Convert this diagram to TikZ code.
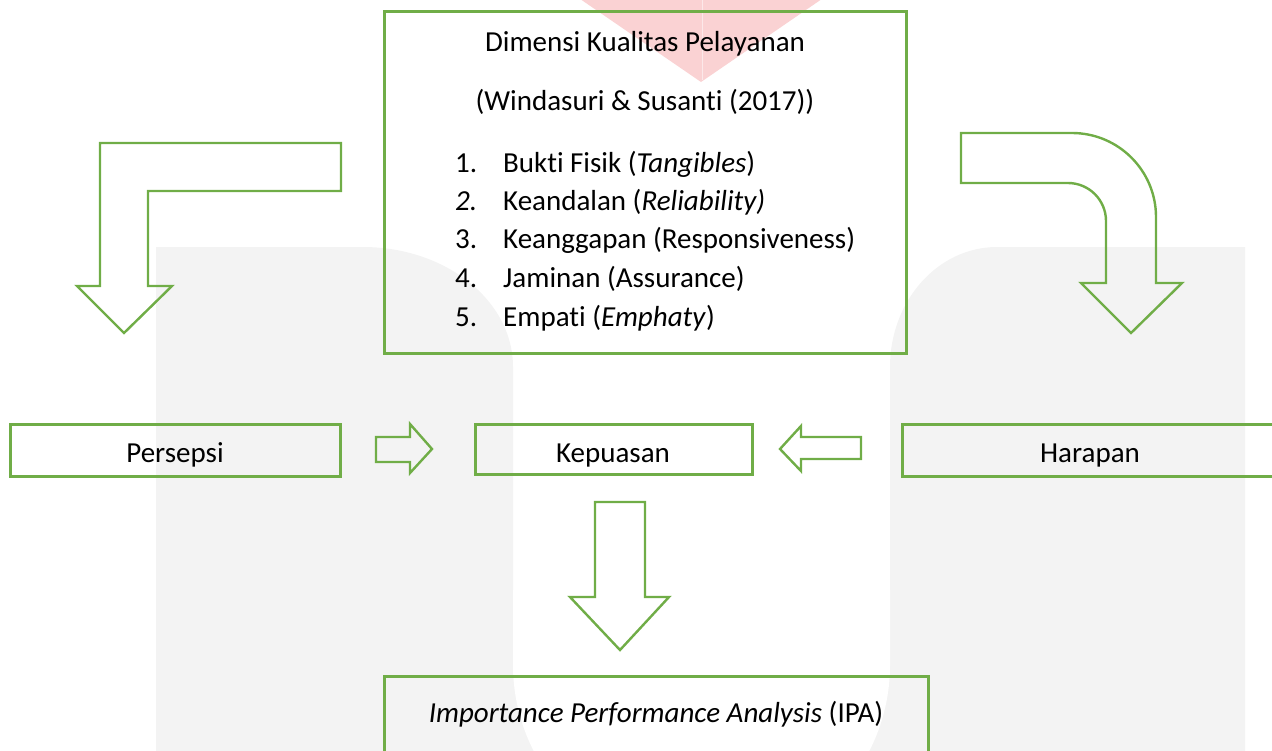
\documentclass[tikz,border=0pt]{standalone}
\usepackage{fontspec}
\setmainfont{Carlito}[RawFeature={-liga;-clig;-calt;-dlig}]
\definecolor{kpgreen}{RGB}{112,173,71}
\definecolor{wmgrey}{RGB}{243,243,243}
\definecolor{wmred}{RGB}{250,210,211}

\begin{document}
\begin{tikzpicture}[x=1pt,y=-1pt,
	greenbox/.style={draw=kpgreen, line width=3pt, inner sep=0pt},
	blockarrow/.style={draw=kpgreen, line width=2.4pt, line join=miter},
	txt/.style={anchor=base, inner sep=0pt, font=\fontsize{29}{35}\selectfont},
	itemtxt/.style={anchor=base west, inner sep=0pt, font=\fontsize{29}{35}\selectfont}]
	\useasboundingbox (0,0) rectangle (1272,750);
	% watermark
	\fill[wmgrey] (156,760) -- (156,247) -- (363,247) arc[start angle=-90, end angle=0, x radius=150, y radius=120] -- (513,760) -- cycle;
	\fill[wmgrey] (890,760) -- (890,367) arc[start angle=180, end angle=270, x radius=107, y radius=120] -- (1245,247) -- (1245,760) -- cycle;
	\fill[wmgrey] (513,600) rectangle (890,760);
	\fill[white] (513,590) -- (513,665) arc[start angle=180, end angle=0, radius=188.5] -- (890,590) -- cycle;
	\fill[wmred] (567,-10) -- (835,-10) -- (701,82) -- cycle;
	\draw[white, opacity=0.5, line width=1pt] (702,-10) -- (702,80);
	% kotak
	\node[greenbox, minimum width=522pt, minimum height=342pt] (dimensi) at (645,182) {};
	\node[greenbox, minimum width=330pt, minimum height=52pt] (persepsi) at (175,450) {};
	\node[greenbox, minimum width=277pt, minimum height=50pt] (kepuasan) at (613.5,449) {};
	\node[greenbox, minimum width=400pt, minimum height=52pt] (harapan) at (1102,450) {};
	\node[greenbox, minimum width=544pt, minimum height=114pt] (ipa) at (656,733) {};
	% teks
	\node[txt] (dimTitle) at (645,51) {Dimensi Kualitas Pelayanan};
	\node[txt] (dimRef) at (645,110) {(Windasuri \& Susanti (2017))};
	\node[itemtxt] (num1) at (455,172) {1.};
	\node[itemtxt] (item1) at (503,172) {Bukti Fisik (\textit{Tangibles})};
	\node[itemtxt] (num2) at (455,210) {\textit{2.}};
	\node[itemtxt] (item2) at (503,210) {Keandalan (\textit{Reliability)}};
	\node[itemtxt] (num3) at (455,248) {3.};
	\node[itemtxt] (item3) at (503,248) {Keanggapan (Responsiveness)};
	\node[itemtxt] (num4) at (455,287) {4.};
	\node[itemtxt] (item4) at (503,287) {Jaminan (Assurance)};
	\node[itemtxt] (num5) at (455,326) {5.};
	\node[itemtxt] (item5) at (503,326) {Empati (\textit{Emphaty})};
	\node[txt] (tPersepsi) at (175,462) {Persepsi};
	\node[txt] (tKepuasan) at (613,462) {Kepuasan};
	\node[txt] (tHarapan) at (1090,462) {Harapan};
	\node[txt] (tIpa) at (656,722) {\textit{Importance Performance Analysis} (IPA)};
	% panah
	\draw[blockarrow] (100,143) -- (341,143) -- (341,191) -- (148,191) -- (148,286) -- (172,286) -- (124,333) -- (77,286) -- (100,286) -- cycle;
	\draw[blockarrow] (961,133) -- (1072,133) arc[start angle=-90, end angle=0, radius=84] -- (1156,283) -- (1182,283) -- (1131,333) -- (1081,283) -- (1106,283) -- (1106,221) arc[start angle=0, end angle=-90, radius=38] -- (961,183) -- cycle;
	\draw[blockarrow] (376,437) -- (410,437) -- (410,424) -- (432,449) -- (410,473) -- (410,462) -- (376,462) -- cycle;
	\draw[blockarrow] (861,437) -- (801,437) -- (801,426) -- (780,449) -- (801,471) -- (801,459) -- (861,459) -- cycle;
	\draw[blockarrow] (595,502) -- (645,502) -- (645,597) -- (669,597) -- (620,650) -- (570,597) -- (595,597) -- cycle;
\end{tikzpicture}
\end{document}
